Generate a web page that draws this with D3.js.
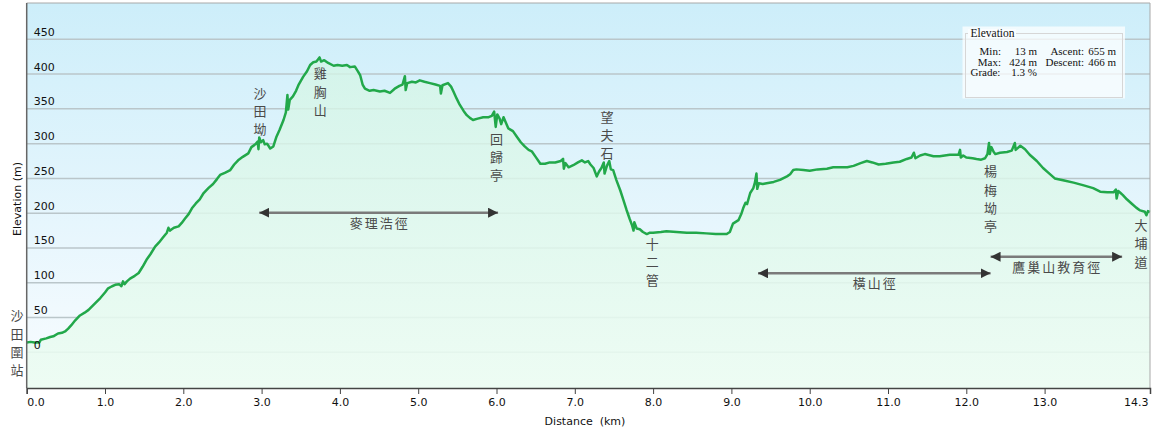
<!DOCTYPE html>
<html>
<head>
<meta charset="utf-8">
<script src="https://cdn.jsdelivr.net/npm/d3@7"></script>
<style>
  body { margin: 0; background: #fff; }
  svg { display: block; }
</style>
</head>
<body>
<svg id="chart" width="1156" height="434"></svg>
<script>
// elevation profile: [distance km, elevation m]
const profile = [
  [0.00, 14], [0.05, 15], [0.10, 14], [0.16, 14], [0.18, 18], [0.25, 20], [0.30, 22],
  [0.34, 23], [0.40, 27], [0.45, 28], [0.49, 30], [0.53, 34], [0.57, 39], [0.62, 46],
  [0.68, 53], [0.74, 57], [0.79, 61], [0.86, 69], [0.94, 78], [1.00, 86], [1.04, 92],
  [1.09, 95], [1.13, 97], [1.18, 98], [1.21, 95], [1.23, 102], [1.25, 98], [1.28, 102],
  [1.32, 106], [1.38, 110], [1.43, 114], [1.48, 123], [1.53, 133], [1.58, 141],
  [1.64, 152], [1.69, 158], [1.74, 165], [1.79, 172], [1.81, 179], [1.83, 175],
  [1.88, 179], [1.94, 181], [1.98, 186], [2.02, 192], [2.07, 199], [2.11, 207],
  [2.16, 214], [2.21, 220], [2.26, 229], [2.32, 236], [2.38, 242], [2.43, 249],
  [2.47, 255], [2.53, 258], [2.60, 262], [2.65, 270], [2.70, 276], [2.76, 281],
  [2.83, 286], [2.87, 295], [2.92, 299], [2.95, 303], [2.96, 292], [2.97, 309],
  [2.99, 302], [3.02, 305], [3.04, 299], [3.07, 300], [3.11, 293], [3.15, 296],
  [3.19, 310], [3.23, 320], [3.28, 334], [3.31, 345], [3.33, 370], [3.34, 349],
  [3.36, 363], [3.40, 368], [3.44, 376], [3.47, 384], [3.53, 396], [3.58, 404],
  [3.62, 413], [3.66, 417], [3.70, 418], [3.74, 424], [3.76, 418], [3.80, 420],
  [3.85, 416], [3.92, 412], [3.97, 413], [4.03, 412], [4.09, 413], [4.13, 410],
  [4.19, 411], [4.23, 404], [4.26, 398], [4.29, 385], [4.32, 379], [4.38, 376],
  [4.43, 377], [4.51, 375], [4.57, 376], [4.64, 373], [4.70, 379], [4.76, 383],
  [4.80, 385], [4.83, 397], [4.84, 377], [4.86, 387], [4.92, 389], [4.97, 388],
  [5.02, 391], [5.08, 389], [5.15, 387], [5.22, 385], [5.28, 383], [5.29, 372],
  [5.31, 384], [5.38, 387], [5.42, 382], [5.45, 375], [5.49, 365], [5.53, 356],
  [5.58, 347], [5.62, 341], [5.66, 337], [5.70, 334], [5.76, 336], [5.83, 338],
  [5.90, 338], [5.94, 340], [5.97, 346], [5.99, 324], [6.01, 342], [6.04, 336],
  [6.06, 328], [6.09, 338], [6.12, 330], [6.15, 322], [6.21, 318], [6.26, 310],
  [6.31, 302], [6.36, 296], [6.41, 291], [6.45, 289], [6.50, 281], [6.56, 271],
  [6.62, 271], [6.68, 273], [6.75, 273], [6.82, 275], [6.85, 278], [6.86, 264],
  [6.88, 272], [6.92, 266], [6.98, 269], [7.04, 273], [7.09, 276], [7.13, 273],
  [7.17, 275], [7.20, 270], [7.24, 265], [7.28, 253], [7.31, 260], [7.34, 265],
  [7.37, 273], [7.38, 257], [7.41, 268], [7.44, 275], [7.46, 263], [7.49, 262],
  [7.53, 248], [7.58, 233], [7.62, 219], [7.66, 205], [7.70, 192], [7.73, 183],
  [7.75, 175], [7.76, 187], [7.79, 178], [7.83, 177], [7.87, 173], [7.92, 170],
  [7.96, 172], [8.00, 172], [8.10, 173], [8.17, 174], [8.30, 173], [8.43, 172],
  [8.55, 172], [8.68, 171], [8.80, 170], [8.94, 170], [8.98, 173], [9.02, 185],
  [9.09, 190], [9.13, 200], [9.15, 207], [9.18, 215], [9.20, 213], [9.24, 229],
  [9.28, 236], [9.30, 244], [9.32, 257], [9.33, 235], [9.35, 243], [9.40, 242],
  [9.45, 243], [9.54, 245], [9.62, 248], [9.71, 253], [9.75, 256], [9.79, 262],
  [9.83, 263], [9.92, 262], [10.00, 261], [10.10, 263], [10.22, 264], [10.30, 266],
  [10.39, 266], [10.48, 266], [10.56, 268], [10.65, 272], [10.73, 275], [10.80, 273],
  [10.88, 270], [10.97, 271], [11.07, 273], [11.15, 274], [11.24, 278], [11.30, 280],
  [11.33, 287], [11.35, 279], [11.41, 283], [11.47, 285], [11.58, 282], [11.66, 282],
  [11.79, 284], [11.90, 284], [11.92, 291], [11.93, 280], [11.96, 283], [12.00, 280],
  [12.08, 279], [12.13, 278], [12.19, 277], [12.24, 279], [12.27, 285], [12.29, 301],
  [12.30, 285], [12.32, 295], [12.35, 288], [12.37, 285], [12.43, 287], [12.52, 288],
  [12.58, 290], [12.62, 301], [12.63, 291], [12.69, 297], [12.75, 292], [12.81, 284],
  [12.90, 275], [12.98, 265], [13.05, 258], [13.13, 250], [13.25, 247], [13.37, 244],
  [13.50, 240], [13.62, 236], [13.71, 231], [13.80, 230], [13.88, 230], [13.91, 234],
  [13.92, 221], [13.94, 232], [13.97, 229], [14.00, 226], [14.05, 220], [14.11, 214],
  [14.17, 208], [14.22, 204], [14.28, 202], [14.30, 197], [14.32, 203], [14.346, 202]
];

const xTicks = [0, 1, 2, 3, 4, 5, 6, 7, 8, 9, 10, 11, 12, 13, 14.346];
const xTickLabels = ["0.0", "1.0", "2.0", "3.0", "4.0", "5.0", "6.0", "7.0", "8.0",
  "9.0", "10.0", "11.0", "12.0", "13.0", "14.3"];
const yTicks = [0, 50, 100, 150, 200, 250, 300, 350, 400, 450];

// place names, written top to bottom: km and elevation of the first character
const places = [
  { name: "沙田坳", km: 2.98, elev: 373 },
  { name: "雞胸山", km: 3.75, elev: 401 },
  { name: "回歸亭", km: 6.00, elev: 307 },
  { name: "望夫石", km: 7.41, elev: 339 },
  { name: "十二管", km: 7.99, elev: 156 },
  { name: "楊梅坳亭", km: 12.31, elev: 260 },
  { name: "大埔道", km: 14.23, elev: 183 },
  { name: "沙田圍站", km: -0.124, elev: 53 }
];

// trail sections shown as double arrows
const trails = [
  { name: "麥理浩徑", from: 2.97, to: 6.02, elev: 200.7 },
  { name: "橫山徑", from: 9.34, to: 12.31, elev: 113.6 },
  { name: "鷹巢山教育徑", from: 12.31, to: 13.99, elev: 137.4 }
];

const statsRows = [
  ["Min:", "13 m", "Ascent:", "655 m"],
  ["Max:", "424 m", "Descent:", "466 m"]
];
const gradeText = ["Grade:", "1.3 %"];

const plot = { left: 26.7, right: 1150, top: 3, bottom: 388 };

const x = d3.scaleLinear().domain([0, 14.346]).range([plot.left, plot.right]);
const y = d3.scaleLinear().domain([-51.3, 502.2]).range([plot.bottom, plot.top]);

const svg = d3.select("#chart");
const defs = svg.append("defs");

const sky = defs.append("linearGradient").attr("id", "sky")
  .attr("x1", 0).attr("y1", 0).attr("x2", 0).attr("y2", 1);
sky.append("stop").attr("offset", "0%").attr("stop-color", "#cdeefa");
sky.append("stop").attr("offset", "100%").attr("stop-color", "#f9fcff");

const ground = defs.append("linearGradient").attr("id", "ground")
  .attr("gradientUnits", "userSpaceOnUse")
  .attr("x1", 0).attr("y1", plot.top).attr("x2", 0).attr("y2", plot.bottom);
ground.append("stop").attr("offset", "0%").attr("stop-color", "#d0f4e4").attr("stop-opacity", 0.75);
ground.append("stop").attr("offset", "100%").attr("stop-color", "#ecfcf2").attr("stop-opacity", 0.9);

defs.append("marker").attr("id", "headEnd")
  .attr("viewBox", "0 0 10 10").attr("refX", 10).attr("refY", 5)
  .attr("markerUnits", "userSpaceOnUse")
  .attr("markerWidth", 10).attr("markerHeight", 10).attr("orient", "auto")
  .append("path").attr("d", "M0,0L10,5L0,10Z").attr("fill", "#333");
defs.append("marker").attr("id", "headStart")
  .attr("viewBox", "0 0 10 10").attr("refX", 10).attr("refY", 5)
  .attr("markerUnits", "userSpaceOnUse")
  .attr("markerWidth", 10).attr("markerHeight", 10).attr("orient", "auto-start-reverse")
  .append("path").attr("d", "M0,0L10,5L0,10Z").attr("fill", "#333");

// plot background
svg.append("rect")
  .attr("x", plot.left).attr("y", plot.top)
  .attr("width", plot.right - plot.left).attr("height", plot.bottom - plot.top)
  .attr("fill", "url(#sky)");

// grid
svg.append("g").selectAll("line")
  .data(yTicks)
  .join("line")
  .attr("x1", plot.left).attr("x2", plot.right)
  .attr("y1", d => y(d)).attr("y2", d => y(d))
  .attr("stroke", "#bac6ca").attr("stroke-width", 1.5);

// area + line
const area = d3.area().x(d => x(d[0])).y0(y(-51.3)).y1(d => y(d[1]));
const line = d3.line().x(d => x(d[0])).y(d => y(d[1]));

svg.append("path").datum(profile)
  .attr("d", area).attr("fill", "url(#ground)");

svg.append("path").datum(profile)
  .attr("d", line)
  .attr("fill", "none")
  .attr("stroke", "#22a84a")
  .attr("stroke-width", 2.5)
  .attr("stroke-linejoin", "round");

// frame
svg.append("path")
  .attr("d", `M${plot.left},${plot.top}H${plot.right}V${plot.bottom}`)
  .attr("fill", "none").attr("stroke", "#a8a8a8").attr("stroke-width", 1);
svg.append("line")
  .attr("x1", plot.left).attr("x2", plot.left)
  .attr("y1", plot.top).attr("y2", plot.bottom)
  .attr("stroke", "#666").attr("stroke-width", 1.5);

// y tick labels, inside the plot above each grid line
svg.append("g").selectAll("text")
  .data(yTicks)
  .join("text")
  .attr("x", plot.left + 7)
  .attr("y", d => y(d) - 3.5)
  .attr("font-family", "DejaVu Sans, Verdana, sans-serif")
  .attr("font-size", 11)
  .attr("fill", "#111")
  .text(d => d);

// x axis
const xAxis = d3.axisBottom(x)
  .tickValues(xTicks)
  .tickSize(6)
  .tickPadding(4)
  .tickFormat((d, i) => xTickLabels[i]);

const gx = svg.append("g")
  .attr("transform", `translate(0,${plot.bottom})`)
  .call(xAxis);
gx.select(".domain").attr("stroke", "#444").attr("stroke-width", 1.5);
gx.selectAll(".tick line").attr("stroke", "#444");
gx.selectAll(".tick text")
  .attr("font-family", "DejaVu Sans, Verdana, sans-serif")
  .attr("font-size", 11)
  .attr("fill", "#111")
  .attr("text-anchor", (d, i) => i === 0 ? "start" : i === xTicks.length - 1 ? "end" : "middle")
  .attr("dx", (d, i) => i === xTicks.length - 1 ? -2 : 0);

svg.append("text")
  .attr("x", 585).attr("y", 425)
  .attr("text-anchor", "middle")
  .attr("font-family", "DejaVu Sans, Verdana, sans-serif")
  .attr("font-size", 11)
  .attr("fill", "#111")
  .attr("xml:space", "preserve")
  .text("Distance  (km)");

svg.append("text")
  .attr("transform", "translate(21,199) rotate(-90)")
  .attr("text-anchor", "middle")
  .attr("font-family", "DejaVu Sans, Verdana, sans-serif")
  .attr("font-size", 11)
  .attr("fill", "#111")
  .text("Elevation (m)");

// place names, vertical
const cjk = "Noto Sans CJK TC, Noto Sans CJK SC, sans-serif";
const placeG = svg.append("g");
places.forEach(p => {
  const t = placeG.append("text")
    .attr("font-family", cjk)
    .attr("font-size", 13)
    .attr("fill", "#4a4a4a")
    .attr("text-anchor", "middle");
  [...p.name].forEach((ch, i) => {
    t.append("tspan")
      .attr("x", x(p.km))
      .attr("y", y(p.elev) + 5 + i * 18.3)
      .text(ch);
  });
});

// trail arrows
const trailG = svg.append("g");
trails.forEach(t => {
  trailG.append("line")
    .attr("x1", x(t.from)).attr("x2", x(t.to))
    .attr("y1", y(t.elev)).attr("y2", y(t.elev))
    .attr("stroke", "#7a7a7a").attr("stroke-width", 2.5)
    .attr("marker-start", "url(#headStart)")
    .attr("marker-end", "url(#headEnd)");
  trailG.append("text")
    .attr("x", (x(t.from) + x(t.to)) / 2 + 1)
    .attr("y", y(t.elev) + 15)
    .attr("text-anchor", "middle")
    .attr("font-family", cjk)
    .attr("font-size", 13)
    .attr("letter-spacing", 2)
    .attr("fill", "#4a4a4a")
    .text(t.name);
});

// stats box
const box = svg.append("g");
box.append("rect")
  .attr("x", 962.5).attr("y", 26.5).attr("width", 162.5).attr("height", 72)
  .attr("fill", "#fff").attr("fill-opacity", 0.72);
box.append("rect")
  .attr("x", 965.5).attr("y", 33.5).attr("width", 157).attr("height", 64)
  .attr("fill", "none").attr("stroke", "#d6d6d6").attr("stroke-width", 1);
box.append("rect")
  .attr("x", 968).attr("y", 29).attr("width", 48).attr("height", 9)
  .attr("fill", "#fafdff");
const serif = "Liberation Serif, Times New Roman, serif";
box.append("text")
  .attr("x", 970.5).attr("y", 37)
  .attr("font-family", serif).attr("font-size", 11.5).attr("fill", "#111")
  .text("Elevation");
const colEnds = [1001, 1037, 1084, 1116];
statsRows.forEach((row, r) => {
  row.forEach((cell, c) => {
    box.append("text")
      .attr("x", colEnds[c]).attr("y", 55 + r * 10.6)
      .attr("text-anchor", "end")
      .attr("font-family", serif).attr("font-size", 11).attr("fill", "#111")
      .text(cell);
  });
});
box.append("text")
  .attr("x", 970.5).attr("y", 76)
  .attr("font-family", serif).attr("font-size", 11).attr("fill", "#111")
  .text(gradeText[0]);
box.append("text")
  .attr("x", colEnds[1]).attr("y", 76)
  .attr("text-anchor", "end")
  .attr("font-family", serif).attr("font-size", 11).attr("fill", "#111")
  .text(gradeText[1]);
</script>
</body>
</html>
